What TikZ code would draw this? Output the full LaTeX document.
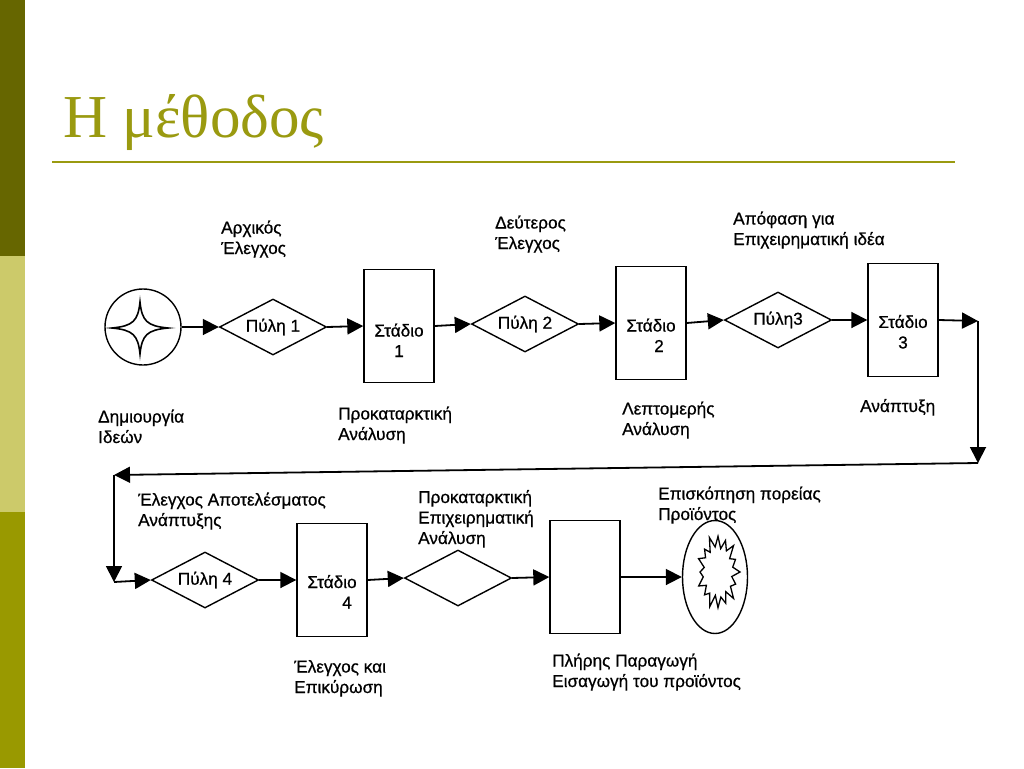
\documentclass[tikz,border=0pt]{standalone}
\usepackage{fontspec}
\setmainfont{Liberation Sans}[FakeBold=0.7]
\newfontfamily\ttlfont{Liberation Serif}
\usetikzlibrary{shapes.geometric,arrows.meta}
\definecolor{olivedark}{HTML}{666600}
\definecolor{olivelight}{HTML}{CCCA6A}
\definecolor{olivemid}{HTML}{999900}
\definecolor{titlecol}{HTML}{9A9A10}
\newcommand\lblfont{\fontsize{17.2}{20.5}\selectfont}
\tikzset{
  stagebox/.style={draw, line width=1.4pt, minimum width=70pt, minimum height=113pt, inner sep=0pt, align=center, font=\lblfont, text height=57pt},
  gate/.style={draw, diamond, aspect=1.9, line width=1.4pt, minimum width=107pt, minimum height=56pt, inner sep=0pt, font=\lblfont},
  lbl/.style={anchor=base west, align=left, inner sep=0pt, font=\lblfont},
  arr/.style={line width=1.8pt, -{Triangle[length=16pt,width=16pt]}}
}
\begin{document}
\begin{tikzpicture}[x=1pt, y=-1pt]
\useasboundingbox (0,0) rectangle (1024,768);
\fill[white] (0,0) rectangle (1024,768);
% side bar
\fill[olivedark] (0,0) rectangle (25,256);
\fill[olivelight] (0,256) rectangle (25,512);
\fill[olivemid] (0,512) rectangle (25,768);
% title
\node[anchor=base west, text=titlecol, font=\ttlfont\fontsize{61}{62}\selectfont, inner sep=0pt] (title) at (63,137) {Η μέθοδος};
\coordinate (ruleL) at (52,162);
\coordinate (ruleR) at (955,162);
\draw[titlecol, line width=1.6pt] (ruleL) -- (ruleR);

% row 1
\node[circle, draw, line width=1.4pt, minimum size=76pt, inner sep=0pt] (idea) at (143,327) {};
\begin{scope}[shift={(140,328)}]
\draw[line width=1.6pt] (0,-26) .. controls (2,-7) and (7,-2) .. (28,0)
  .. controls (7,2) and (2,7) .. (0,26)
  .. controls (-2,7) and (-7,2) .. (-28,0)
  .. controls (-7,-2) and (-2,-7) .. (0,-26) -- cycle;
\end{scope}
\node[gate] (g1) at (273,327) {Πύλη 1};
\node[stagebox, text height=62pt] (b1) at (399,326) {Στάδιο\\1};
\node[gate] (g2) at (525,324) {Πύλη 2};
\node[stagebox, text height=58pt] (b2) at (651,323) {Στάδιο\\\hspace*{16pt}2};
\node[gate] (g3) at (778,320) {Πύλη3};
\node[stagebox] (b3) at (903,320) {Στάδιο\\3};

\coordinate (c1) at (978,321);
\coordinate (c2) at (978,463);
\coordinate (c3) at (114,475);
\coordinate (c4) at (114,582);

\draw[arr] (idea) -- (g1.west);
\draw[arr] (g1.east) -- (b1.west);
\draw[arr] (b1.east) -- (g2.west);
\draw[arr] (g2.east) -- (b2.west);
\draw[arr] (b2.east) -- (g3.west);
\draw[arr] (g3.east) -- (b3.west);
\draw[arr] (b3.east) -- (c1);
\draw[arr] (c1) -- (c2);
\draw[arr] (c2) -- (c3);
\draw[arr] (c3) -- (c4);

% row 2
\node[gate] (g4) at (205,580) {Πύλη 4};
\node[stagebox] (b4) at (332,580) {Στάδιο\\\hspace*{30pt}4};
\node[gate] (g5) at (458,578) {};
\node[stagebox] (b5) at (585,577) {};
\node[ellipse, draw, line width=1.4pt, minimum width=65pt, minimum height=113pt, inner sep=0pt] (rev) at (715,577) {};
\begin{scope}[shift={(718,572)}, yscale=1.7]
\draw[line width=1.3pt] (0:22) \foreach \a/\r in {11/14, 22/19, 34/15, 45/22, 56/14, 67/20, 79/15, 90/21, 101/14, 112/22, 124/15, 135/19, 146/14, 157/21, 169/15, 180/18, 191/14, 202/21, 214/15, 225/19, 236/14, 247/22, 259/15, 270/21, 281/14, 292/20, 304/15, 315/22, 326/14, 337/19, 349/15} { -- (\a:\r) } -- cycle;
\end{scope}

\draw[arr] (c4) -- (g4.west);
\draw[arr] (g4.east) -- (b4.west);
\draw[arr] (b4.east) -- (g5.west);
\draw[arr] (g5.east) -- (b5.west);
\draw[arr] (b5.east) -- (rev.west);

% labels (position = baseline of the last line)
\node[lbl] (lInit) at (221,254) {Αρχικός\\Έλεγχος};
\node[lbl] (lIdea) at (98,443) {Δημιουργία\\Ιδεών};
\node[lbl] (lPre) at (338,440) {Προκαταρκτική\\Ανάλυση};
\node[lbl] (lSec) at (495,249) {Δεύτερος\\Έλεγχος};
\node[lbl] (lDec) at (733,245) {Απόφαση για\\Επιχειρηματική ιδέα};
\node[lbl] (lDet) at (622,435) {Λεπτομερής\\Ανάλυση};
\node[lbl] (lDev) at (860,412) {Ανάπτυξη};
\node[lbl] (lDevC) at (138,526) {Έλεγχος Αποτελέσματος\\Ανάπτυξης};
\node[lbl] (lBiz) at (418,544) {Προκαταρκτική\\Επιχειρηματική\\Ανάλυση};
\node[lbl] (lTest) at (294,693) {Έλεγχος και\\Επικύρωση};
\node[lbl] (lRev) at (658,520) {Επισκόπηση πορείας\\Προϊόντος};
\node[lbl] (lFull) at (552,687) {Πλήρης Παραγωγή\\Εισαγωγή του προϊόντος};
\end{tikzpicture}
\end{document}
